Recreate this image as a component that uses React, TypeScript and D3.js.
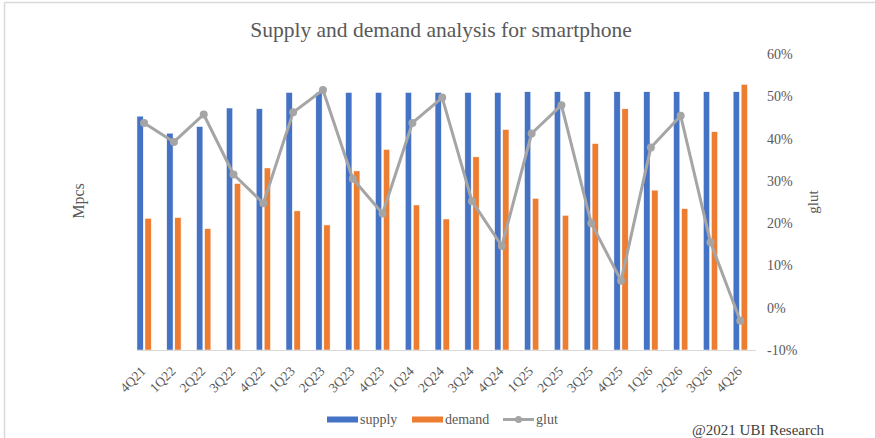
import React from "react";
import * as d3 from "d3";

const quarters = [
  "4Q21", "1Q22", "2Q22", "3Q22", "4Q22", "1Q23", "2Q23", "3Q23", "4Q23", "1Q24", "2Q24",
  "3Q24", "4Q24", "1Q25", "2Q25", "3Q25", "4Q25", "1Q26", "2Q26", "3Q26", "4Q26",
];

// Mpcs (no axis labels in the source)
const supply = [316, 293, 302, 327, 326, 348, 348, 348, 348, 348, 348, 348, 348, 349, 349, 349, 349, 349, 349, 349, 349];
const demand = [178, 179, 164, 225, 246, 188, 169, 242, 271, 196, 177, 261, 298, 205, 182, 279, 326, 216, 191, 295, 359];

// glut, right axis
const glut = [
  0.437, 0.392, 0.457, 0.315, 0.247, 0.462, 0.515, 0.305, 0.223, 0.437, 0.497,
  0.252, 0.146, 0.412, 0.479, 0.2, 0.064, 0.379, 0.454, 0.155, -0.031,
];

const glutTicks = [-0.1, 0, 0.1, 0.2, 0.3, 0.4, 0.5, 0.6];

const legendItems = [
  { label: "supply", color: "#4472C4", kind: "bar", x: 327 },
  { label: "demand", color: "#ED7D31", kind: "bar", x: 412 },
  { label: "glut", color: "#A5A5A5", kind: "line", x: 503 },
];

const W = 875;
const H = 438;
const plot = { left: 130, right: 756, top: 54, bottom: 350 };
const serif = "'Liberation Serif', 'Times New Roman', serif";
const textColor = "#595959";

// Excel-style percent with a plain hyphen for negatives
const pct = (v: number) => d3.format(".0%")(v).replace("\u2212", "-");

export default function App() {
  const x = d3.scaleBand().domain(quarters).range([plot.left, plot.right]).padding(0);
  const yLeft = d3.scaleLinear().domain([0, 400]).range([plot.bottom, plot.top]);
  const yRight = d3.scaleLinear().domain([-0.1, 0.6]).range([plot.bottom, plot.top]);

  const barW = 6.3;
  const gap = 1.7;
  const cx = (q: string) => (x(q) as number) + x.bandwidth() / 2 - 0.8;

  const line = d3
    .line<number>()
    .x((_, i) => cx(quarters[i]))
    .y((d) => yRight(d));

  return (
    <svg width={W} height={H} style={{ position: "absolute", left: 0, top: 0, background: "#fff" }}>
      <rect x={0} y={0} width={W} height={H} fill="#fff" />
      {/* frame */}
      <line x1={4.5} x2={4.5} y1={2.5} y2={H} stroke="#d9d9d9" strokeWidth={1.5} />
      <line x1={4.5} x2={W} y1={2.5} y2={2.5} stroke="#d9d9d9" strokeWidth={1.5} />

      <text x={441} y={37} textAnchor="middle" fontFamily={serif} fontSize={21.5} fill={textColor}>
        Supply and demand analysis for smartphone
      </text>

      {/* bars */}
      {quarters.map((q, i) => (
        <g key={q}>
          <rect
            x={cx(q) - gap / 2 - barW}
            y={yLeft(supply[i])}
            width={barW}
            height={plot.bottom - yLeft(supply[i])}
            fill="#4472C4"
            stroke="#fff"
            strokeWidth={0.5}
          />
          <rect
            x={cx(q) + gap / 2}
            y={yLeft(demand[i])}
            width={barW}
            height={plot.bottom - yLeft(demand[i])}
            fill="#ED7D31"
            stroke="#fff"
            strokeWidth={0.5}
          />
        </g>
      ))}

      {/* category axis */}
      <line x1={137} x2={plot.right} y1={plot.bottom + 0.5} y2={plot.bottom + 0.5} stroke="#d9d9d9" strokeWidth={1} />
      {quarters.map((q) => (
        <text
          key={q}
          transform={`translate(${cx(q) + 2.5},${plot.bottom + 22}) rotate(-45)`}
          textAnchor="end"
          fontFamily={serif}
          fontSize={13.5}
          fill={textColor}
        >
          {q}
        </text>
      ))}

      {/* glut line */}
      <path d={line(glut) || ""} fill="none" stroke="#A5A5A5" strokeWidth={3} strokeLinejoin="round" />
      {glut.map((g, i) => (
        <circle key={i} cx={cx(quarters[i])} cy={yRight(g)} r={4} fill="#A5A5A5" />
      ))}

      {/* right axis */}
      {glutTicks.map((t) => (
        <text
          key={t}
          x={767}
          y={yRight(t) + 5}
          fontFamily={serif}
          fontSize={14}
          fill={textColor}
        >
          {pct(t)}
        </text>
      ))}
      <text
        transform={`translate(818,202) rotate(-90)`}
        textAnchor="middle"
        fontFamily={serif}
        fontSize={15}
        fill={textColor}
      >
        glut
      </text>
      <text
        transform={`translate(84,201) rotate(-90)`}
        textAnchor="middle"
        fontFamily={serif}
        fontSize={16}
        fill={textColor}
      >
        Mpcs
      </text>

      {/* legend */}
      {legendItems.map((it) => (
        <g key={it.label}>
          {it.kind === "bar" ? (
            <rect x={it.x} y={416.5} width={31} height={6} fill={it.color} />
          ) : (
            <g>
              <line x1={it.x} x2={it.x + 31} y1={419.5} y2={419.5} stroke={it.color} strokeWidth={3} />
              <circle cx={it.x + 15.5} cy={419.5} r={3.5} fill={it.color} />
            </g>
          )}
          <text x={it.x + 33} y={424} fontFamily={serif} fontSize={14} fill={textColor}>
            {it.label}
          </text>
        </g>
      ))}

      <text x={692} y={435} fontFamily={serif} fontSize={15} fill="#404040">
        @2021 UBI Research
      </text>
    </svg>
  );
}
